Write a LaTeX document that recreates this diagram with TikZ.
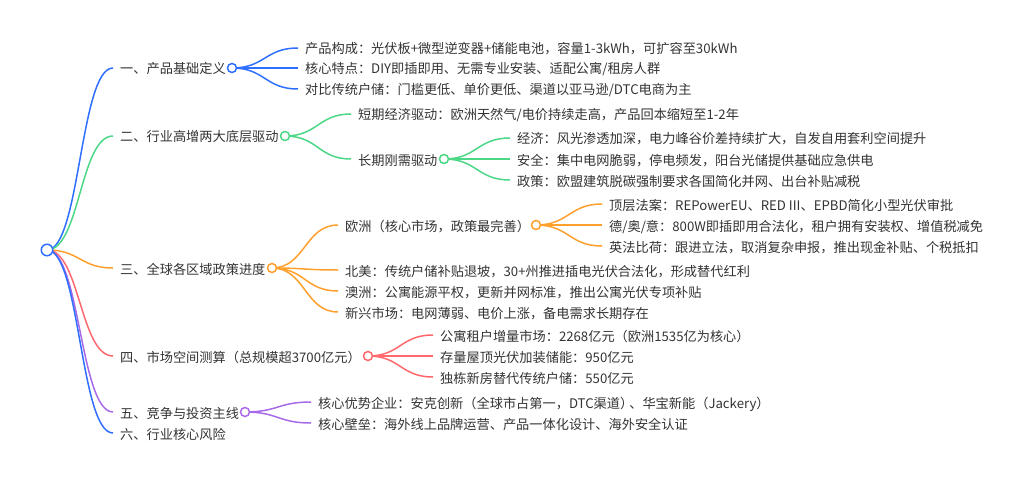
\documentclass[tikz,border=0pt]{standalone}
\usepackage{fontspec}
\setmainfont{Noto Sans CJK SC}
\usetikzlibrary{calc}

\definecolor{mapblue}{RGB}{47,111,255}
\definecolor{mapgreen}{RGB}{76,215,135}
\definecolor{maporange}{RGB}{255,160,45}
\definecolor{mapred}{RGB}{255,105,110}
\definecolor{mappurple}{RGB}{168,107,232}
\definecolor{maptext}{RGB}{51,51,51}

\tikzset{
  topic/.style={anchor=west,inner xsep=7pt,inner ysep=0pt,text height=12pt,text depth=0pt,text=maptext,font=\fontsize{13.2}{15}\selectfont},
  dot/.style={circle,draw=#1,fill=white,line width=1.5pt,minimum size=9pt,inner sep=0pt},
  link/.style={draw=#1,line width=1.5pt,to path={let \p1=(\tikztostart),\p2=(\tikztotarget),\n1={0.5*(\x1+\x2)} in .. controls (\n1,\y1) and (\n1,\y2) .. (\tikztotarget)}}
}

\begin{document}
\begin{tikzpicture}[x=1pt,y=-1pt]
	\useasboundingbox (0,0) rectangle (1024,481);

	\coordinate (root) at (47,250);

	% first level
	\node[topic] (s1) at (113,68) {一、产品基础定义};
	\node[topic] (s2) at (113,136) {二、行业高增两大底层驱动};
	\node[topic] (s3) at (113,268) {三、全球各区域政策进度};
	\node[topic] (s4) at (113,356) {四、市场空间测算（总规模超3700亿元）};
	\node[topic] (s5) at (113,412) {五、竞争与投资主线};
	\node[topic] (s6) at (113,433) {六、行业核心风险};

	% 1
	\node[topic] (s1a) at (298,48) {产品构成：光伏板+微型逆变器+储能电池，容量1-3kWh，可扩容至30kWh};
	\node[topic] (s1b) at (298,68) {核心特点：DIY即插即用、无需专业安装、适配公寓/租房人群};
	\node[topic] (s1c) at (298,89) {对比传统户储：门槛更低、单价更低、渠道以亚马逊/DTC电商为主};

	% 2
	\node[topic] (s2a) at (351,114) {短期经济驱动：欧洲天然气/电价持续走高，产品回本缩短至1-2年};
	\node[topic] (s2b) at (351,159) {长期刚需驱动};
	\node[topic] (s2b1) at (510,138) {经济：风光渗透加深，电力峰谷价差持续扩大，自发自用套利空间提升};
	\node[topic] (s2b2) at (510,159) {安全：集中电网脆弱，停电频发，阳台光储提供基础应急供电};
	\node[topic] (s2b3) at (510,180) {政策：欧盟建筑脱碳强制要求各国简化并网、出台补贴减税};

	% 3
	\node[topic] (s3a) at (338,225) {欧洲（核心市场，政策最完善）};
	\node[topic] (s3a1) at (602,204) {顶层法案：REPowerEU、RED III、EPBD简化小型光伏审批};
	\node[topic] (s3a2) at (602,225) {德/奥/意：800W即插即用合法化，租户拥有安装权、增值税减免};
	\node[topic] (s3a3) at (602,246) {英法比荷：跟进立法，取消复杂申报，推出现金补贴、个税抵扣};
	\node[topic] (s3b) at (338,270) {北美：传统户储补贴退坡，30+州推进插电光伏合法化，形成替代红利};
	\node[topic] (s3c) at (338,291) {澳洲：公寓能源平权，更新并网标准，推出公寓光伏专项补贴};
	\node[topic] (s3d) at (338,312) {新兴市场：电网薄弱、电价上涨，备电需求长期存在};

	% 4
	\node[topic] (s4a) at (433,335) {公寓租户增量市场：2268亿元（欧洲1535亿为核心）};
	\node[topic] (s4b) at (433,356) {存量屋顶光伏加装储能：950亿元};
	\node[topic] (s4c) at (433,377) {独栋新房替代传统户储：550亿元};

	% 5
	\node[topic] (s5a) at (311,402) {核心优势企业：安克创新（全球市占第一，DTC渠道）\kern-4pt、华宝新能（Jackery）};
	\node[topic] (s5b) at (311,423) {核心壁垒：海外线上品牌运营、产品一体化设计、海外安全认证};

	% connectors
	\draw[link=mapblue] (root) to (s1.west);
	\draw[link=mapgreen] (root) to (s2.west);
	\draw[link=maporange] (root) to (s3.west);
	\draw[link=mapred] (root) to (s4.west);
	\draw[link=mappurple] (root) to (s5.west);
	\draw[link=mapblue] (root) to (s6.west);

	\coordinate (d1) at (232,68);
	\coordinate (d2) at (285,136);
	\coordinate (d2b) at (444,159);
	\coordinate (d3) at (272,268);
	\coordinate (d3a) at (536,225);
	\coordinate (d4) at (368,356);
	\coordinate (d5) at (245,412);

	\foreach \leaf in {s1a,s1b,s1c} \draw[link=mapblue] (d1) to (\leaf.west);
	\foreach \leaf in {s2a,s2b} \draw[link=mapgreen] (d2) to (\leaf.west);
	\foreach \leaf in {s2b1,s2b2,s2b3} \draw[link=mapgreen] (d2b) to (\leaf.west);
	\foreach \leaf in {s3a,s3b,s3c,s3d} \draw[link=maporange] (d3) to (\leaf.west);
	\foreach \leaf in {s3a1,s3a2,s3a3} \draw[link=maporange] (d3a) to (\leaf.west);
	\foreach \leaf in {s4a,s4b,s4c} \draw[link=mapred] (d4) to (\leaf.west);
	\foreach \leaf in {s5a,s5b} \draw[link=mappurple] (d5) to (\leaf.west);

	% dots on top
	\node[dot=mapblue,minimum size=11.5pt] (rootdot) at (root) {};
	\node[dot=mapblue] (dot1) at (d1) {};
	\node[dot=mapgreen] (dot2) at (d2) {};
	\node[dot=mapgreen] (dot2b) at (d2b) {};
	\node[dot=maporange] (dot3) at (d3) {};
	\node[dot=maporange] (dot3a) at (d3a) {};
	\node[dot=mapred] (dot4) at (d4) {};
	\node[dot=mappurple] (dot5) at (d5) {};
\end{tikzpicture}
\end{document}
